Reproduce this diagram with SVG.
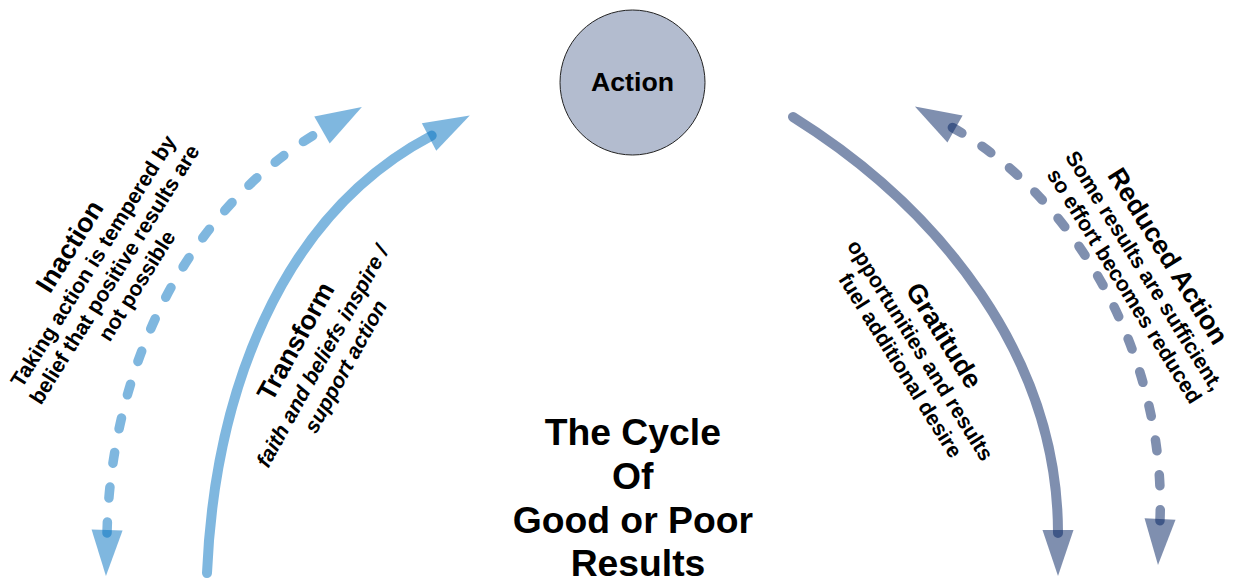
<svg xmlns="http://www.w3.org/2000/svg" width="1233" height="582" viewBox="0 0 1233 582">
<style>
  .t { font-family: "Liberation Sans", Arial, sans-serif; font-weight: bold; fill: #000; text-anchor: middle; }
  .h { font-size: 26.7px; }
  .s { font-size: 21.3px; }
  .i { font-style: italic; }
  .main { font-size: 37.3px; }
  .lb { fill: none; stroke: #0070C0; stroke-opacity: 0.5; stroke-linecap: round; }
  .db { fill: none; stroke: #002060; stroke-opacity: 0.5; stroke-linecap: round; }
  .solid { stroke-width: 10; }
  .dash { stroke-width: 9.5; stroke-dasharray: 11 24; }
</style>
<defs>
  <marker id="ahLight" markerUnits="userSpaceOnUse" refX="0" refY="0" markerWidth="50" markerHeight="34" orient="auto-start-reverse" overflow="visible">
    <path d="M-3,-15.5 L43,0 L-3,15.5 Z" fill="#0070C0" fill-opacity="0.5"/>
  </marker>
  <marker id="ahDark" markerUnits="userSpaceOnUse" refX="0" refY="0" markerWidth="50" markerHeight="34" orient="auto-start-reverse" overflow="visible">
    <path d="M-3,-15.5 L43,0 L-3,15.5 Z" fill="#002060" fill-opacity="0.5"/>
  </marker>
</defs>

<g id="connectors">
  <path id="inaction-arrow" class="lb dash" d="M107,533 C111,370 183.3,209.7 324.6,128.5" marker-start="url(#ahLight)" marker-end="url(#ahLight)"/>
  <path id="transform-arrow" class="lb solid" d="M207,573 C214.4,401 275.9,217.4 431.7,135.6" marker-end="url(#ahLight)"/>
  <path id="gratitude-arrow" class="db solid" d="M793,117 C941.4,209.8 1058,358 1058,533" marker-end="url(#ahDark)"/>
  <path id="reduced-arrow" class="db dash" d="M952.4,127.5 C1078.8,198.4 1167,361.8 1159.9,522" marker-start="url(#ahDark)" marker-end="url(#ahDark)"/>
</g>

<g id="action">
  <circle cx="632.5" cy="82.5" r="72.5" fill="#B3BCCF" stroke="#222" stroke-width="1"/>
  <text class="t h" x="632.5" y="91">Action</text>
</g>

<g id="inaction" transform="translate(94,259) rotate(-58)">
  <text class="t">
    <tspan class="h" x="0" y="-18.4">Inaction</tspan>
    <tspan class="s" x="0" y="7.7">Taking action is tempered by</tspan>
    <tspan class="s" x="0" y="32.7">belief that positive results are</tspan>
    <tspan class="s" x="0" y="57.7">not possible</tspan>
  </text>
</g>

<g id="transform" transform="translate(323,354) rotate(-61)">
  <text class="t">
    <tspan class="h" x="0" y="-21">Transform</tspan>
    <tspan class="s i" x="0" y="7.7">faith and beliefs inspire /</tspan>
    <tspan class="s i" x="0" y="33">support action</tspan>
  </text>
</g>

<g id="gratitude" transform="translate(922,352) rotate(58)">
  <text class="t">
    <tspan class="h" x="0" y="-18.4">Gratitude</tspan>
    <tspan class="s" x="0" y="7.7">opportunities and results</tspan>
    <tspan class="s" x="0" y="32.7">fuel additional desire</tspan>
  </text>
</g>

<g id="reduced-action" transform="translate(1146,272.5) rotate(58)">
  <text class="t">
    <tspan class="h" x="0" y="-18.4">Reduced Action</tspan>
    <tspan class="s" x="0" y="7.7">Some results are sufficient,</tspan>
    <tspan class="s" x="0" y="32.7">so effort becomes reduced</tspan>
  </text>
</g>

<g id="title">
  <text class="t main">
    <tspan x="638" y="445">The Cycle</tspan>
    <tspan x="638" y="489">Of</tspan>
    <tspan x="638" y="533">Good or Poor</tspan>
    <tspan x="638" y="576">Results</tspan>
  </text>
</g>
</svg>
